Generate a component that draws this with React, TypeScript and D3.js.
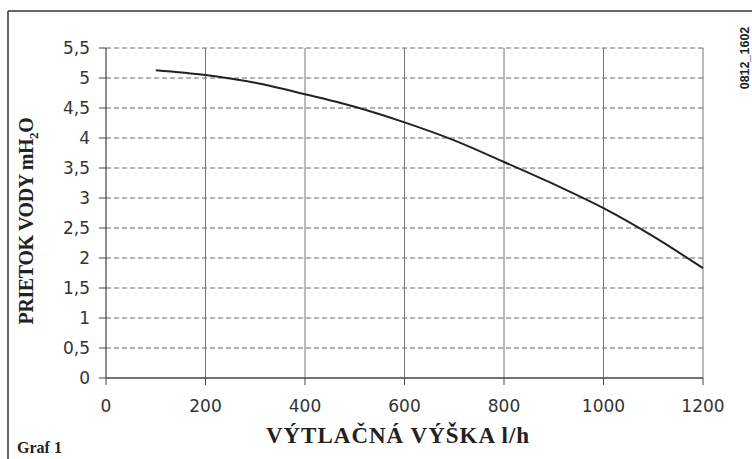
import React from "react";
import * as d3 from "d3";

const flowValues = [100, 200, 300, 400, 500, 600, 700, 800, 900, 1000, 1100, 1200];
const headValues = [5.13, 5.05, 4.92, 4.73, 4.52, 4.26, 3.96, 3.6, 3.23, 2.83, 2.36, 1.83];
const xTicks = [0, 200, 400, 600, 800, 1000, 1200];
const yTicks = [0, 0.5, 1, 1.5, 2, 2.5, 3, 3.5, 4, 4.5, 5, 5.5];

const W = 752;
const H = 459;
const M = { left: 106, right: 703, top: 48, bottom: 378 };

export default function App() {
  const x = d3.scaleLinear().domain([0, 1200]).range([M.left, M.right]);
  const y = d3.scaleLinear().domain([0, 5.5]).range([M.bottom, M.top]);
  const pts = flowValues.map((f, i) => [f, headValues[i]] as [number, number]);
  const line = d3
    .line<[number, number]>()
    .x((d) => x(d[0]))
    .y((d) => y(d[1]))
    .curve(d3.curveMonotoneX);
  const fmt = (v: number) => String(v).replace(".", ",");
  const tickFont = "DejaVu Sans, Verdana, sans-serif";
  const serif = "Liberation Serif, Times New Roman, serif";

  return (
    <svg
      width={W}
      height={H}
      style={{ position: "absolute", left: 0, top: 0, background: "#fff" }}
    >
      {/* frame */}
      <line x1={8} y1={11} x2={W} y2={11} stroke="#333" strokeWidth={1.5} />
      <line x1={8} y1={11} x2={8} y2={H} stroke="#333" strokeWidth={1.5} />

      {/* horizontal dashed grid */}
      {yTicks.filter((t) => t > 0).map((t) => (
        <line
          key={"h" + t}
          x1={M.left}
          x2={M.right}
          y1={y(t)}
          y2={y(t)}
          stroke="#666"
          strokeWidth={1}
          strokeDasharray="5,3"
        />
      ))}
      {/* vertical grid */}
      {xTicks.filter((t) => t > 0).map((t) => (
        <line
          key={"v" + t}
          x1={x(t)}
          x2={x(t)}
          y1={M.top}
          y2={M.bottom}
          stroke="#777"
          strokeWidth={1}
        />
      ))}
      {/* axes */}
      <line x1={M.left} x2={M.left} y1={M.top} y2={M.bottom} stroke="#444" strokeWidth={1.2} />
      <line x1={M.left} x2={M.right} y1={M.bottom} y2={M.bottom} stroke="#444" strokeWidth={1.5} />

      {/* y ticks */}
      {yTicks.map((t) => (
        <g key={"yt" + t}>
          <line x1={M.left - 7} x2={M.left} y1={y(t)} y2={y(t)} stroke="#444" strokeWidth={1} />
          <text
            x={M.left - 16}
            y={y(t)}
            dy="0.36em"
            textAnchor="end"
            fontFamily={tickFont}
            fontSize={17}
            fill="#333"
          >
            {fmt(t)}
          </text>
        </g>
      ))}
      {/* x ticks */}
      {xTicks.map((t) => (
        <g key={"xt" + t}>
          <line x1={x(t)} x2={x(t)} y1={M.bottom} y2={M.bottom + 7} stroke="#444" strokeWidth={1} />
          <text
            x={x(t)}
            y={412}
            textAnchor="middle"
            fontFamily={tickFont}
            fontSize={17}
            fill="#333"
          >
            {t}
          </text>
        </g>
      ))}

      {/* curve */}
      <path d={line(pts) || ""} fill="none" stroke="#222" strokeWidth={2} />

      {/* titles */}
      <text
        x={398}
        y={443}
        textAnchor="middle"
        fontFamily={serif}
        fontWeight="bold"
        fontSize={23}
        letterSpacing={1}
        fill="#222"
      >
        VÝTLAČNÁ VÝŠKA l/h
      </text>
      <text
        transform="translate(33,221) rotate(-90)"
        textAnchor="middle"
        fontFamily={serif}
        fontWeight="bold"
        fontSize={20}
        letterSpacing={-0.4}
        fill="#222"
      >
        PRIETOK VODY mH
        <tspan fontSize={13} dy={5}>2</tspan>
        <tspan dy={-5}>O</tspan>
      </text>
      <text x={17} y={453} fontFamily={serif} fontWeight="bold" fontSize={16} fill="#222">
        Graf 1
      </text>
      <text
        transform="translate(749,58) rotate(-90)"
        textAnchor="middle"
        fontFamily="Liberation Sans, Arial, sans-serif"
        fontWeight="bold"
        fontSize={12.5}
        fill="#222"
      >
        0812_1602
      </text>
    </svg>
  );
}
